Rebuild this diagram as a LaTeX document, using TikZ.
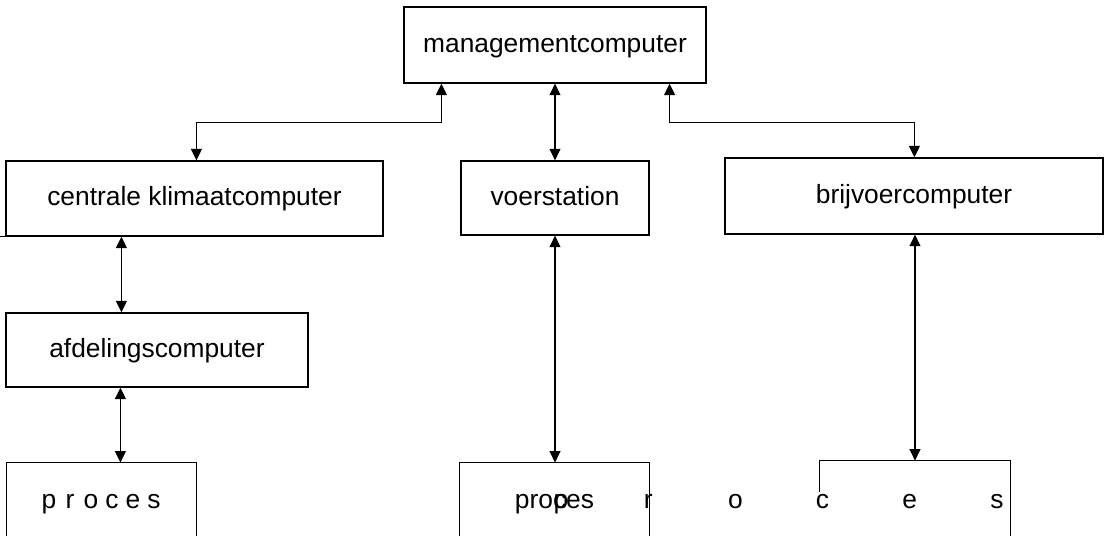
\documentclass[tikz,border=0pt]{standalone}
\usepackage{fontspec}
\setmainfont{Liberation Sans}
\usetikzlibrary{arrows.meta,calc}
\begin{document}
\begin{tikzpicture}[x=0.02cm,y=-0.02cm,
  lbl/.style={inner sep=0pt,text height=0.3cm,text depth=0pt,font=\fontsize{15}{18}\selectfont},
  box/.style={lbl,draw,line width=0.7pt},
  openbox/.style={lbl,draw=none},
  link/.style={line width=0.85pt,{Triangle[length=6.6pt,width=6.2pt]}-{Triangle[length=6.6pt,width=6.2pt]}},
  edgeline/.style={line width=0.7pt}]
\useasboundingbox (0,0) rectangle (1110,536);

% boxes
\node[box,minimum width=6.04cm,minimum height=1.52cm] (mgmt) at (555,45) {managementcomputer};
\node[box,minimum width=7.54cm,minimum height=1.50cm] (centrale) at (194.5,198.5) {centrale klimaatcomputer};
\node[box,minimum width=3.76cm,minimum height=1.48cm] (voer) at (555,198) {voerstation};
\node[box,minimum width=7.56cm,minimum height=1.52cm] (brij) at (914,196) {brijvoercomputer};
\node[box,minimum width=6.04cm,minimum height=1.48cm] (afdel) at (157,350) {afdelingscomputer};

% bottom process boxes (open at the bottom)
\node[openbox,minimum width=3.78cm,minimum height=1.54cm] (procA) at (101.5,501.5)
  {\makebox[0.42cm]{p}\makebox[0.42cm]{r}\makebox[0.42cm]{o}\makebox[0.42cm]{c}\makebox[0.42cm]{e}\makebox[0.42cm]{s}};
\node[openbox,minimum width=3.78cm,minimum height=1.54cm] (procB) at (554.5,501.5) {proces};
\node[openbox,minimum width=3.80cm,minimum height=1.58cm,text height=0pt] (procC) at (915,500.5) {};
\node[lbl,anchor=base] (spaced) at (779,509)
  {\makebox[1.744cm]{p}\makebox[1.744cm]{r}\makebox[1.744cm]{o}\makebox[1.744cm]{c}\makebox[1.744cm]{e}\makebox[1.744cm]{s}};

\draw[edgeline] (procA.south west) |- (procA.north east) -- (procA.south east);
\draw[edgeline] (procB.south west) |- (procB.north east) -- (procB.south east);
\draw[edgeline] ($(procC.north west)+(0,31)$) -- (procC.north west) -- (procC.north east) -- (procC.south east);
\draw[edgeline] (centrale.south west) -- ++(-6,0);

% connectors
\draw[link] ($(mgmt.south west)+(38,0)$) -- ++(0,39) -| ($(centrale.north west)+(191,0)$);
\draw[link] (mgmt.south) -- (voer.north);
\draw[link] ($(mgmt.south east)+(-37,0)$) -- ++(0,39) -| ($(brij.north west)+(190,0)$);
\draw[link] ($(centrale.south west)+(116,0)$) coordinate (c1) -- (c1 |- afdel.north);
\draw[link] ($(afdel.south west)+(115,0)$) coordinate (a1) -- (a1 |- procA.north);
\draw[link] (voer.south) -- (voer.south |- procB.north);
\draw[link] (procC.north |- brij.south) -- (procC.north);
\end{tikzpicture}
\end{document}
